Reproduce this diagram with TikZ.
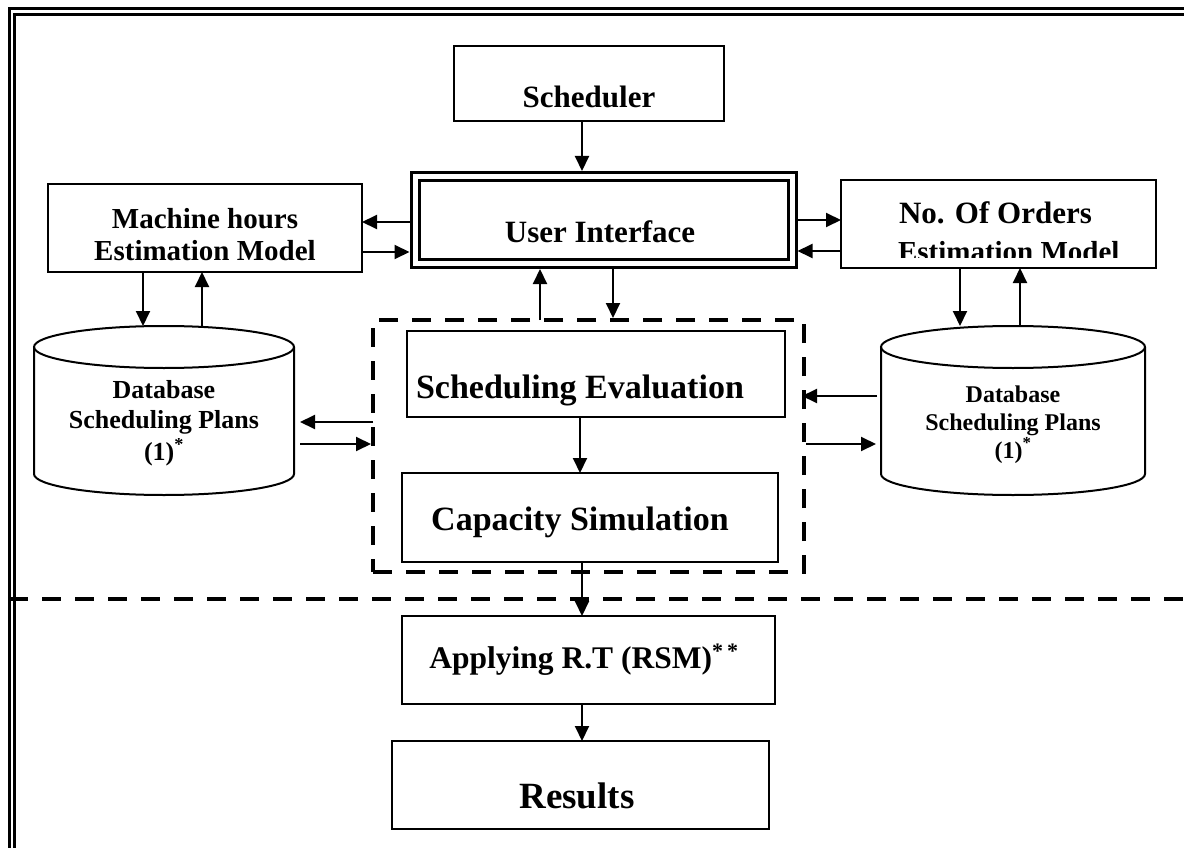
\documentclass[tikz,border=0pt]{standalone}
\usepackage{fontspec}
\setmainfont{Liberation Serif}
\usetikzlibrary{arrows.meta}
\newcommand\myfs[1]{\fontsize{#1}{#1}\selectfont\bfseries}
\begin{document}
\begin{tikzpicture}[x=1pt,y=-1pt,
  box/.style={draw, line width=2pt, inner sep=0pt, outer sep=0pt},
  lbl/.style={inner sep=0pt, outer sep=0pt, anchor=base},
  arr/.style={line width=2pt, -{Triangle[length=15pt,width=14pt]}},
  dashline/.style={line width=4pt, dash pattern=on 19pt off 14pt},
  ln/.style={line width=2pt},
  frame/.style={line width=2.6pt}]
\useasboundingbox (0,0) rectangle (1184,848);
% outer frame (double line, top and left)
\draw[frame] (9.3,848) -- (9.3,8.7) -- (1184,8.7);
\draw[frame] (14.7,848) -- (14.7,14.7) -- (1184,14.7);

% boxes
\node[box, minimum width=270pt, minimum height=75pt] (sched) at (589,83.5) {};
\node[lbl, font=\myfs{31}] (schedT) at (589,108) {Scheduler};

\node[draw, line width=3pt, double, double distance=5pt, minimum width=377pt, minimum height=87pt, inner sep=0pt, outer sep=5.5pt] (ui) at (603.5,220) {};
\node[lbl, font=\myfs{31}] (uiT) at (600,242) {User Interface};

\node[box, minimum width=314pt, minimum height=88pt] (mh) at (205,228) {};
\node[lbl, font=\myfs{29}] (mhT1) at (205,228) {Machine hours};
\node[lbl, font=\myfs{29}] (mhT2) at (205,260) {Estimation Model};

\node[box, minimum width=315pt, minimum height=88pt] (no) at (998.5,224) {};
\node[lbl, anchor=base west, font=\myfs{31}] (noT1) at (899,223) {No. Of Orders};
\begin{scope}
\clip (no.north west) rectangle ([yshift=11pt]no.south east);
\node[lbl, anchor=base west, font=\myfs{29}] (noT2) at (898,261) {Estimation Model};
\end{scope}

% databases (cylinders)
\node[inner sep=0pt, outer sep=0pt, minimum width=260pt, minimum height=169pt] (dbL) at (164,410.5) {};
\draw[ln] ([yshift=-21pt]dbL.north) ellipse [x radius=130pt, y radius=21pt];
\draw[ln] ([yshift=-21pt]dbL.north west) -- ([yshift=21pt]dbL.south west)
  arc[start angle=180, end angle=360, x radius=130pt, y radius=21pt] -- ([yshift=-21pt]dbL.north east);
\node[lbl, font=\myfs{26}] (dbLT1) at (164,398) {Database};
\node[lbl, font=\myfs{26}] (dbLT2) at (164,428) {Scheduling Plans};
\node[lbl, font=\myfs{26}] (dbLT3) at (164,460) {(1)\textsuperscript{*}};

\node[inner sep=0pt, outer sep=0pt, minimum width=264pt, minimum height=169pt] (dbR) at (1013,410.5) {};
\draw[ln] ([yshift=-21pt]dbR.north) ellipse [x radius=132pt, y radius=21pt];
\draw[ln] ([yshift=-21pt]dbR.north west) -- ([yshift=21pt]dbR.south west)
  arc[start angle=180, end angle=360, x radius=132pt, y radius=21pt] -- ([yshift=-21pt]dbR.north east);
\node[lbl, font=\myfs{24}] (dbRT1) at (1013,402) {Database};
\node[lbl, font=\myfs{24}] (dbRT2) at (1013,430) {Scheduling Plans};
\node[lbl, font=\myfs{24}] (dbRT3) at (1013,458) {(1)\textsuperscript{*}};

% dashed group
\node[dashline, draw, minimum width=431pt, minimum height=252pt, inner sep=0pt, outer sep=0pt] (dsh) at (588.5,446) {};
\node[box, minimum width=378pt, minimum height=86pt] (se) at (596,374) {};
\node[lbl, font=\myfs{34}] (seT) at (580,398) {Scheduling Evaluation};
\node[box, minimum width=376pt, minimum height=89pt] (cs) at (590,517.5) {};
\node[lbl, font=\myfs{34}] (csT) at (580,530) {Capacity Simulation};

% long dashed separator
\draw[dashline] (9,599) -- (1184,599);

\node[box, minimum width=373pt, minimum height=88pt] (ap) at (588.5,660) {};
\node[lbl, font=\myfs{31.5}] (apT) at (584,668) {Applying R.T (RSM)\textsuperscript{*\hspace{4pt}*}};
\node[box, minimum width=377pt, minimum height=88pt] (res) at (580.5,785) {};
\node[lbl, font=\myfs{37}] (resT) at (577,808) {Results};

% connectors
\draw[arr] ([xshift=-7pt]sched.south) -- ([xshift=-7pt]sched.south |- ui.north);
\draw[arr] ([yshift=-2pt]ui.west) -- ([yshift=-2pt]ui.west -| mh.east);
\draw[arr] ([yshift=-32pt]ui.west -| mh.east) -- ([yshift=-32pt]ui.west);
\draw[arr] ([yshift=0pt]ui.east) -- ([yshift=0pt]ui.east -| no.west);
\draw[arr] ([yshift=-31pt]ui.east -| no.west) -- ([yshift=-31pt]ui.east);
\draw[arr] ([xshift=-62pt]mh.south) -- ([xshift=-62pt]mh.south |- dbL.north);
\draw[arr] ([xshift=38pt]dbL.north) -- ([xshift=38pt]dbL.north |- mh.south);
\draw[arr] ([xshift=-38.5pt]no.south) -- ([xshift=-38.5pt]no.south |- dbR.north);
\draw[arr] ([xshift=7pt]dbR.north) -- ([xshift=7pt]dbR.north |- no.south);
\draw[arr] ([xshift=-63.5pt]ui.south |- dsh.north) -- ([xshift=-63.5pt]ui.south);
\draw[arr] ([xshift=9.5pt]ui.south) -- ([xshift=9.5pt,yshift=2pt]ui.south |- dsh.north);
\draw[arr, shorten >=6pt] ([yshift=24pt]dsh.west) -- ([yshift=24pt]dsh.west -| dbL.east);
\draw[arr, shorten <=6pt, shorten >=2pt] ([yshift=2pt]dsh.west -| dbL.east) -- ([yshift=2pt]dsh.west);
\draw[arr, shorten <=4pt, shorten >=-2pt] ([yshift=50pt]dsh.east -| dbR.west) -- ([yshift=50pt]dsh.east);
\draw[arr, shorten <=2pt, shorten >=5pt] ([yshift=2pt]dsh.east) -- ([yshift=2pt]dsh.east -| dbR.west);
\draw[arr] ([xshift=-16pt]se.south) -- ([xshift=-16pt]se.south |- cs.north);
\draw[arr] ([xshift=-8pt]cs.south) -- ([xshift=-8pt]cs.south |- ap.north);
\draw[arr] ([xshift=-6.5pt]ap.south) -- ([xshift=-6.5pt]ap.south |- res.north);
\end{tikzpicture}
\end{document}
